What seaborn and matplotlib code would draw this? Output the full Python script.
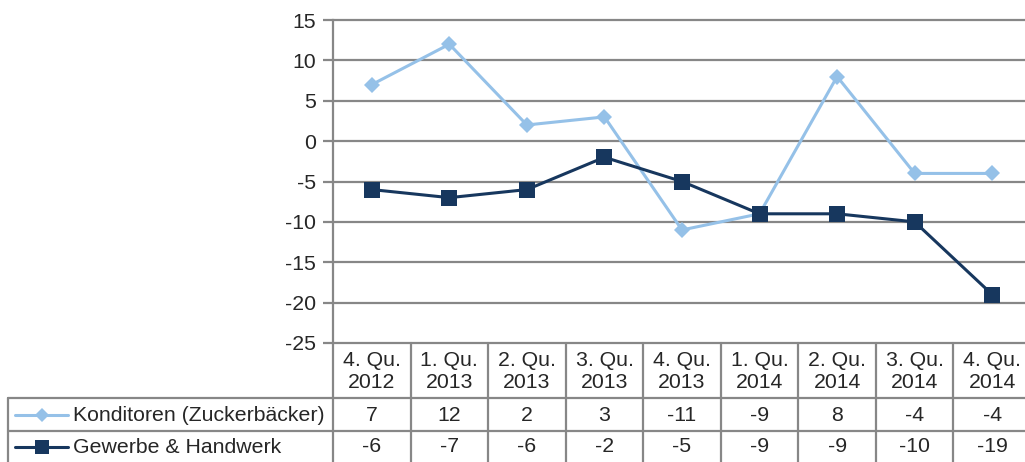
import numpy as np
import pandas as pd
import matplotlib.pyplot as plt
import seaborn as sns
from matplotlib.lines import Line2D

# data
quarters = ["4. Qu.\n2012", "1. Qu.\n2013", "2. Qu.\n2013", "3. Qu.\n2013", "4. Qu.\n2013",
            "1. Qu.\n2014", "2. Qu.\n2014", "3. Qu.\n2014", "4. Qu.\n2014"]
konditoren = [7, 12, 2, 3, -11, -9, 8, -4, -4]
gewerbe = [-6, -7, -6, -2, -5, -9, -9, -10, -19]
series_names = ["Konditoren (Zuckerbäcker)", "Gewerbe & Handwerk"]

light = "#95C1E8"
dark = "#17375E"
grid_col = "#878787"

sns.set_style("white")
plt.rcParams["font.family"] = ["Liberation Sans", "DejaVu Sans"]
plt.rcParams["axes.unicode_minus"] = False

W, H = 1025, 462
fs = 15.3
fig = plt.figure(figsize=(W / 100, H / 100), dpi=100)

# axes area in pixels
x0, x1 = 333, 1031
y_top, y_bot = 20, 343
ax = fig.add_axes([x0 / W, 1 - y_bot / H, (x1 - x0) / W, (y_bot - y_top) / H])

df = pd.DataFrame({
    "pos": list(range(len(quarters))) * 2,
    "value": konditoren + gewerbe,
    "series": [series_names[0]] * len(quarters) + [series_names[1]] * len(quarters),
})

sns.lineplot(data=df[df.series == series_names[0]], x="pos", y="value", ax=ax,
             color=light, lw=2.2, marker="D", markersize=8, markeredgewidth=0,
             legend=False, zorder=3)
sns.lineplot(data=df[df.series == series_names[1]], x="pos", y="value", ax=ax,
             color=dark, lw=2.2, marker="s", markersize=11, markeredgewidth=0,
             legend=False, zorder=4)

ax.set_xlim(-0.5, len(quarters) - 0.5)
ax.set_ylim(-25, 15)
ax.set_yticks(range(-25, 16, 5))
ax.set_xticks([])
ax.set_xlabel("")
ax.set_ylabel("")
for y in range(-25, 16, 5):
    ax.axhline(y, color=grid_col, lw=1.6, zorder=1, clip_on=False)
for s in ["top", "right", "bottom"]:
    ax.spines[s].set_visible(False)
ax.spines["left"].set_color(grid_col)
ax.spines["left"].set_linewidth(1.6)
ax.tick_params(axis="y", length=7, width=1.6, color=grid_col, pad=5,
               labelsize=fs, left=True)
ax.tick_params(axis="x", length=0)

# data table below the axes
def fx(px):
    return px / W

def fy(py):
    return 1 - py / H

col_w = (x1 - x0) / len(quarters)
row_hdr, row1, row2, row_end = 343, 398, 431, 464
tbl_left = 8
lkw = dict(color=grid_col, lw=1.6, transform=fig.transFigure)

fig.add_artist(Line2D([fx(x0), fx(x0)], [fy(row_hdr), fy(row_end)], **lkw))
for k in range(1, len(quarters) + 1):
    xx = x0 + k * col_w
    fig.add_artist(Line2D([fx(xx), fx(xx)], [fy(row_hdr), fy(row_end)], **lkw))
fig.add_artist(Line2D([fx(tbl_left), fx(tbl_left)], [fy(row1), fy(row_end)], **lkw))
for yy in [row1, row2]:
    fig.add_artist(Line2D([fx(tbl_left), fx(x1)], [fy(yy), fy(yy)], **lkw))

for k, q in enumerate(quarters):
    cx = x0 + (k + 0.5) * col_w
    fig.text(fx(cx), fy((row_hdr + row1) / 2 + 1), q, ha="center", va="center",
             fontsize=fs, linespacing=1.25)
    fig.text(fx(cx), fy((row1 + row2) / 2 + 1), str(konditoren[k]), ha="center",
             va="center", fontsize=fs)
    fig.text(fx(cx), fy((row2 + row_end) / 2 - 1), str(gewerbe[k]), ha="center",
             va="center", fontsize=fs)

# legend keys inside the table
for yy, name, col, mk, ms in [((row1 + row2) / 2, series_names[0], light, "D", 7),
                              ((row2 + row_end) / 2 - 1, series_names[1], dark, "s", 10)]:
    fig.add_artist(Line2D([fx(15), fx(68)], [fy(yy), fy(yy)], color=col, lw=2.2,
                          transform=fig.transFigure))
    fig.add_artist(Line2D([fx(42)], [fy(yy)], color=col, marker=mk, markersize=ms,
                          markeredgewidth=0, transform=fig.transFigure))
    fig.text(fx(73), fy(yy + 1), name, ha="left", va="center", fontsize=fs)

fig.savefig("out.png", dpi=100)
